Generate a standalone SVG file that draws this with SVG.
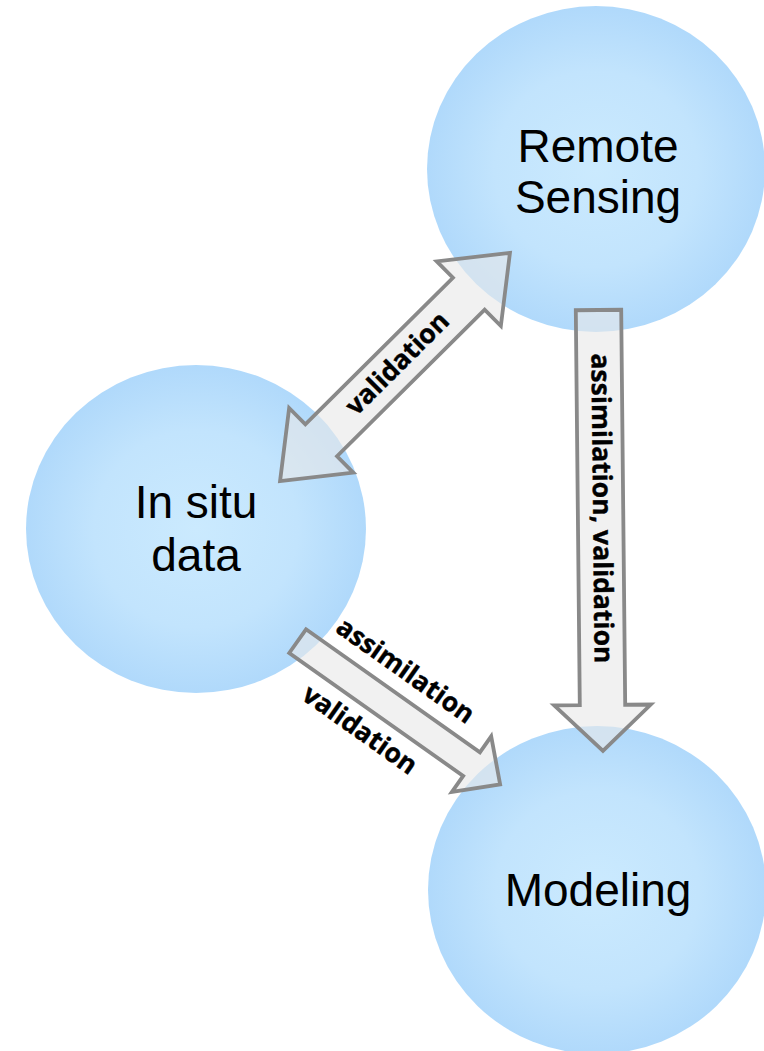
<svg xmlns="http://www.w3.org/2000/svg" width="764" height="1051" viewBox="0 0 764 1051">
  <defs>
    <radialGradient id="bubble" cx="50%" cy="50%" r="50%">
      <stop offset="0%" stop-color="#cbeafe"/>
      <stop offset="60%" stop-color="#c2e4fd"/>
      <stop offset="100%" stop-color="#b0d9fb"/>
    </radialGradient>
  </defs>
  <style>
    .node { fill: url(#bubble); }
    .node-label { font-family: "Liberation Sans", Arial, sans-serif; font-size: 46px; fill: #000; text-anchor: middle; }
    .arrow { fill: #e8e8e8; fill-opacity: 0.62; stroke: #898989; stroke-width: 3.8; stroke-linejoin: miter; stroke-miterlimit: 10; }
    .edge-label { font-family: "Open Sans", "DejaVu Sans", sans-serif; font-weight: bold; font-size: 26.5px; fill: #000; text-anchor: middle; stroke: #000; stroke-width: 0.4; }
  </style>

  <rect width="764" height="1051" fill="#ffffff"/>

  <!-- Nodes -->
  <g id="remote-sensing">
    <ellipse class="node" cx="596" cy="169" rx="169" ry="163"/>
    <text class="node-label" x="598" y="162">Remote</text>
    <text class="node-label" x="598" y="213">Sensing</text>
  </g>

  <g id="in-situ-data">
    <ellipse class="node" cx="196" cy="529" rx="170" ry="164"/>
    <text class="node-label" x="196" y="518">In situ</text>
    <text class="node-label" x="196" y="571">data</text>
  </g>

  <g id="modeling">
    <ellipse class="node" cx="597" cy="890" rx="169" ry="164"/>
    <text class="node-label" x="598" y="906">Modeling</text>
  </g>

  <!-- Connectors (block arrows with labels) -->
  <g id="connectors">
    <!-- In situ data <-> Remote Sensing -->
    <g id="edge-validation" transform="translate(395,367) rotate(-44.8)">
      <polygon class="arrow" points="162,0 104,-45.5 104,-22.5 -104,-22.5 -104,-45.5 -162,0 -104,45.5 -104,22.5 104,22.5 104,45.5"/>
      <text class="edge-label" x="4" y="8">validation</text>
    </g>

    <!-- Remote Sensing -> Modeling -->
    <g id="edge-rs-modeling" transform="translate(598.5,310) rotate(89.42)">
      <polygon class="arrow" points="0,-22.7 395,-22.7 395,-48.3 441,0 395,48.3 395,22.7 0,22.7"/>
      <text class="edge-label" x="198.5" y="7.5">assimilation, validation</text>
    </g>

    <!-- In situ data -> Modeling -->
    <g id="edge-insitu-modeling" transform="translate(296,640) rotate(35.26)">
      <polygon class="arrow" points="2,-14.5 215,-14.5 215,-34 250,0 215,34 215,14.5 2,14.5"/>
      <text class="edge-label" x="107" y="-29.5">assimilation</text>
      <text class="edge-label" x="104" y="45.2">validation</text>
    </g>
  </g>
</svg>
